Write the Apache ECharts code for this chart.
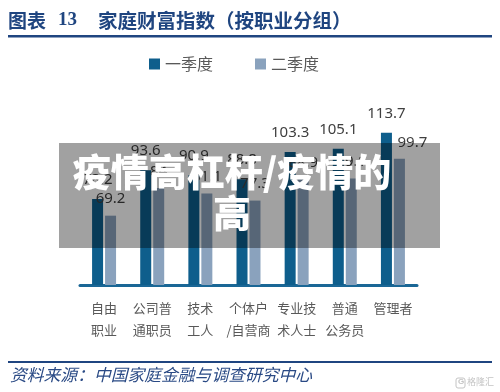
<!DOCTYPE html>
<html>
<head>
<meta charset="utf-8">
<style>
html,body{margin:0;padding:0;background:#fff;}
#c{width:500px;height:392px;}
</style>
<script src="https://cdn.jsdelivr.net/npm/echarts@6/dist/echarts.min.js"></script>
</head>
<body>
<div id="c"></div>
<script>
const categories = ['自由\n职业', '公司普\n通职员', '技术\n工人', '个体户\n/自营商', '专业技\n术人士', '普通\n公务员', '管理者'];
const seriesNames = ['一季度', '二季度'];
const q1 = [78.2, 93.6, 90.9, 88.8, 103.3, 105.1, 113.7];
const q2 = [69.2, 84.0, 81.1, 77.3, 88.9, 89.1, 99.7];

const chart = echarts.init(document.getElementById('c'), null, {renderer: 'canvas'});
const cjk = '"Noto Sans CJK SC", "Noto Sans", sans-serif';
const blue = '#1f4580';

function labelCfg(dist) {
  return {
    show: true, position: 'top', distance: dist,
    color: '#404040', fontSize: 15, fontFamily: '"Noto Sans", sans-serif'
  };
}
// last Q2 label is nudged right in the reference
const q2Data = q2.map((v, i) => i === q2.length - 1 ? {value: v, label: {offset: [13, 0]}} : v);

chart.setOption({
  animation: false,
  legend: {
    data: seriesNames,
    top: 51, left: 144,
    icon: 'rect', itemWidth: 11, itemHeight: 11, itemGap: 42,
    textStyle: {color: '#595959', fontSize: 16, fontFamily: cjk}
  },
  grid: {left: 80, right: 83, top: 121, bottom: 107},
  xAxis: {
    type: 'category', data: categories,
    axisLine: {lineStyle: {color: '#1a6796', width: 3}},
    axisTick: {show: false},
    axisLabel: {color: '#595959', fontSize: 13, fontFamily: cjk, lineHeight: 22, margin: 12, interval: 0}
  },
  yAxis: {
    type: 'value', min: 32, max: 120,
    show: false, splitLine: {show: false}
  },
  series: [
    {name: seriesNames[0], type: 'bar', data: q1, barWidth: 11, barGap: '18%',
     itemStyle: {color: '#0e5e8c'}, label: labelCfg(12)},
    {name: seriesNames[1], type: 'bar', data: q2Data, barWidth: 11,
     itemStyle: {color: '#8aa2bd'}, label: labelCfg(9)}
  ],
  graphic: [
    {type: 'text', left: 8, top: 11, z: 10,
     style: {text: '图表', fill: blue, font: 'bold 19px ' + cjk}},
    {type: 'text', left: 58, top: 11, z: 10,
     style: {text: '13', fill: blue, font: 'bold 19px "Liberation Serif", serif'}},
    {type: 'text', left: 98, top: 11, z: 10,
     style: {text: '家庭财富指数（按职业分组）', fill: blue, font: 'bold 19.5px ' + cjk}},
    {type: 'rect', z: 10, shape: {x: 8, y: 35, width: 484, height: 2.5}, style: {fill: blue}},
    {type: 'rect', z: 10, shape: {x: 8, y: 361, width: 484, height: 2}, style: {fill: blue}},
    {type: 'text', left: 10, top: 366, z: 10,
     style: {text: '资料来源：中国家庭金融与调查研究中心', fill: '#2a4a85', font: 'italic 16.8px ' + cjk}},
    {type: 'rect', z: 10, shape: {x: 456, y: 378, width: 9, height: 10, r: 2}, style: {fill: 'none', stroke: '#c4c4c4', lineWidth: 1}},
    {type: 'text', left: 458, top: 378, z: 10,
     style: {text: 'G', fill: '#c4c4c4', font: 'bold 8px sans-serif'}},
    {type: 'text', left: 467, top: 377, z: 10,
     style: {text: '格隆汇', fill: '#c4c4c4', font: '9px ' + cjk}},
    {type: 'rect', z: 100, shape: {x: 59, y: 143, width: 381, height: 105}, style: {fill: 'rgba(0,0,0,0.37)'}},
    {type: 'text', z: 101, x: 232, y: 151,
     style: {text: '疫情高杠杆/疫情的\n高', fill: '#ffffff', font: '900 38px ' + cjk,
             textAlign: 'center', textVerticalAlign: 'top', lineHeight: 41}}
  ]
});
</script>
</body>
</html>
